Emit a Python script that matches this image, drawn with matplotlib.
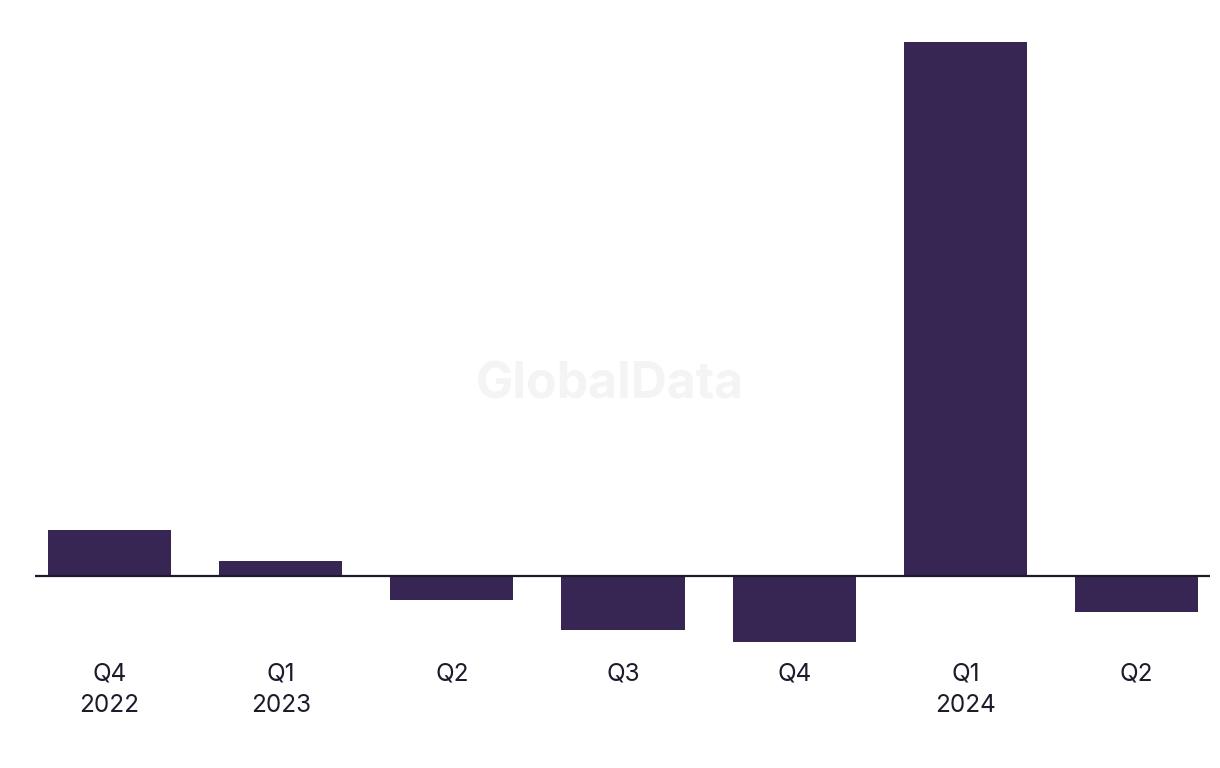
import matplotlib
matplotlib.use("Agg")
import matplotlib.pyplot as plt

# quarterly values (arbitrary units)
quarters = ["Q4\n2022", "Q1\n2023", "Q2", "Q3", "Q4", "Q1\n2024", "Q2"]
values = [46, 15, -24, -54, -66, 534, -36]

bar_color = "#372554"
text_color = "#1b1b2b"

plt.rcParams['font.family'] = ['Inter', 'DejaVu Sans']

fig = plt.figure(figsize=(12.2, 7.68), dpi=100)
ax = fig.add_axes([35 / 1220, 126 / 768, 1175 / 1220, 600 / 768])

x = list(range(len(quarters)))
ax.bar(x, values, width=0.72, color=bar_color, zorder=2)
ax.axhline(0, color=text_color, lw=1.6, zorder=3)

ax.set_xlim(-0.436, len(quarters) - 1 + 0.43)
ax.set_ylim(min(values), max(values))

ax.set_xticks(x)
ax.set_xticklabels(quarters, fontsize=17.5, color=text_color, linespacing=1.45)
ax.tick_params(axis='x', length=0, pad=15)
ax.get_yaxis().set_visible(False)
for s in ax.spines.values():
    s.set_visible(False)

# watermark
fig.text(0.5, 1 - 385 / 768, "GlobalData", ha='center', va='center',
         fontsize=36, fontweight='bold', color="#f4f4f4", zorder=0)

fig.savefig("out.png", dpi=100, facecolor="white")
